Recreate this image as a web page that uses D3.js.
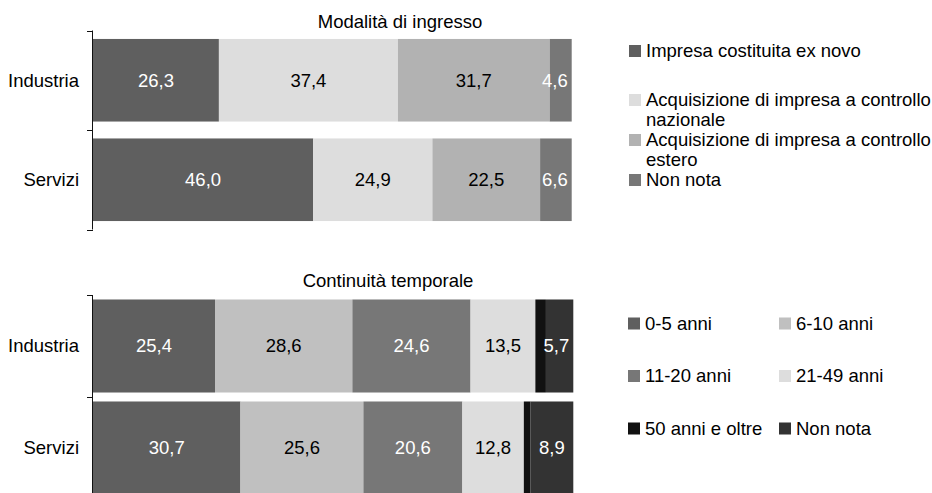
<!DOCTYPE html>
<html>
<head>
<meta charset="utf-8">
<script src="https://cdn.jsdelivr.net/npm/d3@7"></script>
<style>
  html, body { margin: 0; padding: 0; background: #fff; }
  svg { display: block; font-family: "Liberation Sans", Arial, sans-serif; }
</style>
</head>
<body>
<svg id="chart" width="932" height="493"></svg>
<script>
// Sectors shown in both panels
const sectors = ["Industria", "Servizi"];

// Panel 1: Modalità di ingresso (percent shares)
const entryTitle = "Modalità di ingresso";
const entryKeys = ["Impresa costituita ex novo", "Acquisizione di impresa a controllo nazionale", "Acquisizione di impresa a controllo estero", "Non nota"];
const entryLegendLines = [["Impresa costituita ex novo"], ["Acquisizione di impresa a controllo", "nazionale"], ["Acquisizione di impresa a controllo", "estero"], ["Non nota"]];
const entryIndustria = [26.3, 37.4, 31.7, 4.6];
const entryServizi = [46.0, 24.9, 22.5, 6.6];
const entryColors = ["#5f5f5f", "#dddddd", "#b2b2b2", "#777777"];
const entryLabelColors = ["#fff", "#000", "#000", "#fff"];

// Panel 2: Continuità temporale (percent shares)
const ageTitle = "Continuità temporale";
const ageKeys = ["0-5 anni", "6-10 anni", "11-20 anni", "21-49 anni", "50 anni e oltre", "Non nota"];
const ageIndustria = [25.4, 28.6, 24.6, 13.5, 2.2, 5.7];
const ageServizi = [30.7, 25.6, 20.6, 12.8, 1.4, 8.9];
const ageColors = ["#5f5f5f", "#c0c0c0", "#777777", "#dddddd", "#111111", "#333333"];
const ageLabelColors = ["#fff", "#000", "#fff", "#000", null, "#fff"];

const fmt = v => v.toFixed(1).replace(".", ",");
const svg = d3.select("#chart");
const FS = 18.5;

function panel(cfg) {
  const g = svg.append("g");
  const rows = sectors.map((s, i) => ({ sector: s, values: cfg.values[i] }));

  const x = d3.scaleLinear().domain([0, 100]).range([cfg.x0, cfg.x1]);
  const y = d3.scaleBand().domain(sectors).range([cfg.y0, cfg.y1])
    .paddingInner(cfg.pad).paddingOuter(cfg.pad / 2);

  // stacked segments
  rows.forEach(r => {
    let acc = 0;
    const segs = r.values.map((v, k) => { const s = { k, v, a: acc, b: acc + v }; acc += v; return s; });
    const row = g.append("g");
    row.selectAll("rect").data(segs).join("rect")
      .attr("x", d => x(d.a))
      .attr("width", d => x(d.b) - x(d.a))
      .attr("y", y(r.sector))
      .attr("height", y.bandwidth())
      .attr("fill", d => cfg.colors[d.k]);

    row.selectAll("text").data(segs.filter(d => cfg.labelColors[d.k])).join("text")
      .attr("y", y(r.sector) + y.bandwidth() / 2)
      .attr("dy", "0.35em")
      .attr("text-anchor", "middle")
      .attr("font-size", FS)
      .attr("fill", d => cfg.labelColors[d.k])
      .text(d => fmt(d.v))
      .attr("x", function (d) {
        const mid = (x(d.a) + x(d.b)) / 2;
        const w = this.getComputedTextLength();
        return Math.min(mid, cfg.x1 - 4 - w / 2);
      });
  });

  // category axis: line with ticks at band boundaries
  const ax = g.append("g").attr("stroke", "#111").attr("stroke-width", 1);
  ax.append("line").attr("x1", cfg.x0 - 0.5).attr("x2", cfg.x0 - 0.5)
    .attr("y1", cfg.y0).attr("y2", cfg.y1);
  const step = y.step();
  d3.range(sectors.length + 1).forEach(i => {
    const ty = Math.round(cfg.y0 + i * step) + 0.5;
    ax.append("line").attr("x1", cfg.x0 - 6).attr("x2", cfg.x0).attr("y1", ty).attr("y2", ty);
  });
  g.selectAll(".cat").data(sectors).join("text")
    .attr("class", "cat")
    .attr("x", cfg.x0 - 14)
    .attr("y", d => y(d) + y.bandwidth() / 2)
    .attr("dy", "0.35em")
    .attr("text-anchor", "end")
    .attr("font-size", FS)
    .attr("fill", "#000")
    .text(d => d);

  g.append("text")
    .attr("x", cfg.titleX).attr("y", cfg.titleY)
    .attr("text-anchor", "middle")
    .attr("font-size", FS)
    .attr("fill", "#000")
    .text(cfg.title);
}

panel({
  title: entryTitle, titleX: 400, titleY: 28,
  values: [entryIndustria, entryServizi], colors: entryColors, labelColors: entryLabelColors,
  x0: 93, x1: 571.7, y0: 30.5, y1: 229.5, pad: 0.17
});

panel({
  title: ageTitle, titleX: 388, titleY: 287,
  values: [ageIndustria, ageServizi], colors: ageColors, labelColors: ageLabelColors,
  x0: 93, x1: 573.3, y0: 295, y1: 499, pad: 0.088
});

// Legend: Modalità di ingresso
const leg1Y = [51, 100, 140, 180];
const leg1 = svg.append("g");
entryKeys.forEach((k, i) => {
  leg1.append("rect").attr("x", 629).attr("y", leg1Y[i] - 6).attr("width", 12).attr("height", 12)
    .attr("fill", entryColors[i]);
  const t = leg1.append("text").attr("x", 646).attr("y", leg1Y[i])
    .attr("font-size", FS).attr("fill", "#000");
  entryLegendLines[i].forEach((line, j) => {
    t.append("tspan").attr("x", 646).attr("dy", j === 0 ? "0.35em" : 20).text(line);
  });
});

// Legend: Continuità temporale (two columns)
const leg2Rows = [323.5, 376, 428.5];
const leg2Cols = [628, 779];
const leg2 = svg.append("g");
ageKeys.forEach((k, i) => {
  const cx = leg2Cols[i % 2], cy = leg2Rows[Math.floor(i / 2)];
  leg2.append("rect").attr("x", cx).attr("y", cy - 6).attr("width", 12).attr("height", 12)
    .attr("fill", ageColors[i]);
  leg2.append("text").attr("x", cx + 17).attr("y", cy).attr("dy", "0.35em")
    .attr("font-size", FS).attr("fill", "#000").text(k);
});
</script>
</body>
</html>
